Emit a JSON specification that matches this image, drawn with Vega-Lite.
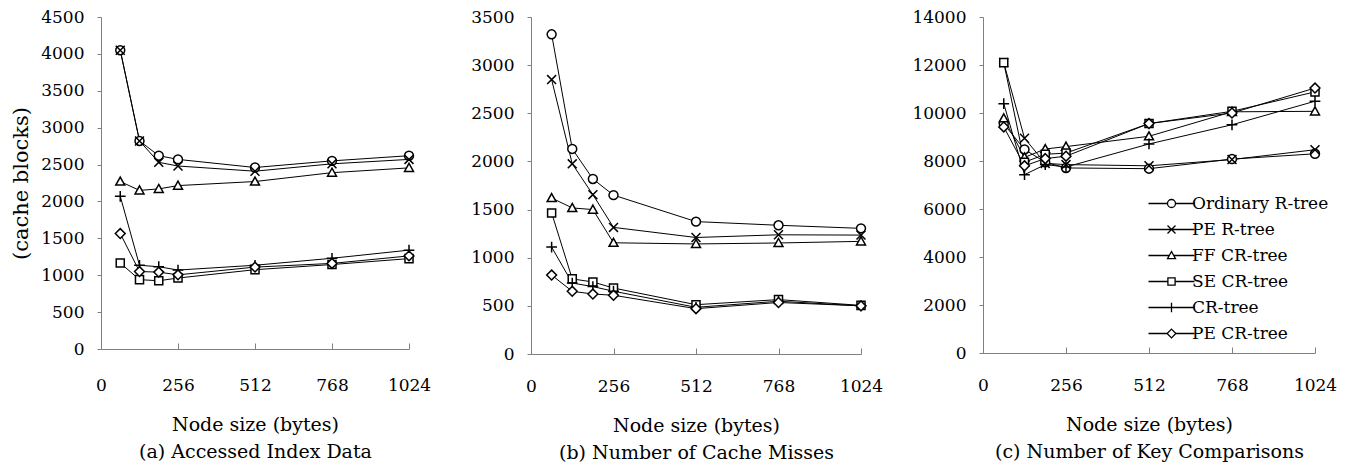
{
  "$schema": "https://vega.github.io/schema/vega-lite/v6.json",
  "padding": {"left": 10, "top": 8, "right": 5, "bottom": 2},
  "background": "white",
  "bounds": "flush",
  "spacing": 122,
  "config": {
    "font": "DejaVu Serif",
    "view": {"stroke": null},
    "axis": {
      "grid": false,
      "domainColor": "#808080",
      "tickColor": "#808080",
      "labelColor": "black",
      "titleColor": "black",
      "labelFont": "DejaVu Serif",
      "titleFont": "DejaVu Serif",
      "titleFontWeight": "normal",
      "labelFontSize": 17,
      "titleFontSize": 19,
      "format": "d"
    },
    "legend": {
      "labelFont": "DejaVu Serif",
      "labelFontSize": 17,
      "labelColor": "black"
    }
  },
  "resolve": {"scale": {"shape": "independent"}, "legend": {"shape": "independent"}},
  "datasets": {
    "d": [
      {"p":"a","s":"Ordinary R-tree","x":64,"y":4050},{"p":"a","s":"Ordinary R-tree","x":128,"y":2820},{"p":"a","s":"Ordinary R-tree","x":192,"y":2620},{"p":"a","s":"Ordinary R-tree","x":256,"y":2570},{"p":"a","s":"Ordinary R-tree","x":512,"y":2460},{"p":"a","s":"Ordinary R-tree","x":768,"y":2550},{"p":"a","s":"Ordinary R-tree","x":1024,"y":2620},
      {"p":"a","s":"PE R-tree","x":64,"y":4050},{"p":"a","s":"PE R-tree","x":128,"y":2820},{"p":"a","s":"PE R-tree","x":192,"y":2530},{"p":"a","s":"PE R-tree","x":256,"y":2480},{"p":"a","s":"PE R-tree","x":512,"y":2410},{"p":"a","s":"PE R-tree","x":768,"y":2510},{"p":"a","s":"PE R-tree","x":1024,"y":2570},
      {"p":"a","s":"FF CR-tree","x":64,"y":2270},{"p":"a","s":"FF CR-tree","x":128,"y":2150},{"p":"a","s":"FF CR-tree","x":192,"y":2170},{"p":"a","s":"FF CR-tree","x":256,"y":2215},{"p":"a","s":"FF CR-tree","x":512,"y":2270},{"p":"a","s":"FF CR-tree","x":768,"y":2390},{"p":"a","s":"FF CR-tree","x":1024,"y":2455},
      {"p":"a","s":"SE CR-tree","x":64,"y":1165},{"p":"a","s":"SE CR-tree","x":128,"y":940},{"p":"a","s":"SE CR-tree","x":192,"y":925},{"p":"a","s":"SE CR-tree","x":256,"y":962},{"p":"a","s":"SE CR-tree","x":512,"y":1075},{"p":"a","s":"SE CR-tree","x":768,"y":1145},{"p":"a","s":"SE CR-tree","x":1024,"y":1225},
      {"p":"a","s":"CR-tree","x":64,"y":2070},{"p":"a","s":"CR-tree","x":128,"y":1135},{"p":"a","s":"CR-tree","x":192,"y":1115},{"p":"a","s":"CR-tree","x":256,"y":1070},{"p":"a","s":"CR-tree","x":512,"y":1135},{"p":"a","s":"CR-tree","x":768,"y":1230},{"p":"a","s":"CR-tree","x":1024,"y":1340},
      {"p":"a","s":"PE CR-tree","x":64,"y":1565},{"p":"a","s":"PE CR-tree","x":128,"y":1050},{"p":"a","s":"PE CR-tree","x":192,"y":1042},{"p":"a","s":"PE CR-tree","x":256,"y":1005},{"p":"a","s":"PE CR-tree","x":512,"y":1110},{"p":"a","s":"PE CR-tree","x":768,"y":1160},{"p":"a","s":"PE CR-tree","x":1024,"y":1262},

      {"p":"b","s":"Ordinary R-tree","x":64,"y":3320},{"p":"b","s":"Ordinary R-tree","x":128,"y":2130},{"p":"b","s":"Ordinary R-tree","x":192,"y":1818},{"p":"b","s":"Ordinary R-tree","x":256,"y":1650},{"p":"b","s":"Ordinary R-tree","x":512,"y":1375},{"p":"b","s":"Ordinary R-tree","x":768,"y":1337},{"p":"b","s":"Ordinary R-tree","x":1024,"y":1305},
      {"p":"b","s":"PE R-tree","x":64,"y":2850},{"p":"b","s":"PE R-tree","x":128,"y":1975},{"p":"b","s":"PE R-tree","x":192,"y":1655},{"p":"b","s":"PE R-tree","x":256,"y":1315},{"p":"b","s":"PE R-tree","x":512,"y":1210},{"p":"b","s":"PE R-tree","x":768,"y":1238},{"p":"b","s":"PE R-tree","x":1024,"y":1235},
      {"p":"b","s":"FF CR-tree","x":64,"y":1620},{"p":"b","s":"FF CR-tree","x":128,"y":1517},{"p":"b","s":"FF CR-tree","x":192,"y":1500},{"p":"b","s":"FF CR-tree","x":256,"y":1155},{"p":"b","s":"FF CR-tree","x":512,"y":1143},{"p":"b","s":"FF CR-tree","x":768,"y":1153},{"p":"b","s":"FF CR-tree","x":1024,"y":1170},
      {"p":"b","s":"SE CR-tree","x":64,"y":1465},{"p":"b","s":"SE CR-tree","x":128,"y":780},{"p":"b","s":"SE CR-tree","x":192,"y":748},{"p":"b","s":"SE CR-tree","x":256,"y":685},{"p":"b","s":"SE CR-tree","x":512,"y":512},{"p":"b","s":"SE CR-tree","x":768,"y":565},{"p":"b","s":"SE CR-tree","x":1024,"y":505},
      {"p":"b","s":"CR-tree","x":64,"y":1110},{"p":"b","s":"CR-tree","x":128,"y":737},{"p":"b","s":"CR-tree","x":192,"y":700},{"p":"b","s":"CR-tree","x":256,"y":652},{"p":"b","s":"CR-tree","x":512,"y":485},{"p":"b","s":"CR-tree","x":768,"y":548},{"p":"b","s":"CR-tree","x":1024,"y":500},
      {"p":"b","s":"PE CR-tree","x":64,"y":820},{"p":"b","s":"PE CR-tree","x":128,"y":651},{"p":"b","s":"PE CR-tree","x":192,"y":623},{"p":"b","s":"PE CR-tree","x":256,"y":610},{"p":"b","s":"PE CR-tree","x":512,"y":471},{"p":"b","s":"PE CR-tree","x":768,"y":535},{"p":"b","s":"PE CR-tree","x":1024,"y":500},

      {"p":"c","s":"Ordinary R-tree","x":64,"y":9550},{"p":"c","s":"Ordinary R-tree","x":128,"y":8480},{"p":"c","s":"Ordinary R-tree","x":192,"y":7950},{"p":"c","s":"Ordinary R-tree","x":256,"y":7710},{"p":"c","s":"Ordinary R-tree","x":512,"y":7680},{"p":"c","s":"Ordinary R-tree","x":768,"y":8080},{"p":"c","s":"Ordinary R-tree","x":1024,"y":8300},
      {"p":"c","s":"PE R-tree","x":64,"y":12100},{"p":"c","s":"PE R-tree","x":128,"y":8950},{"p":"c","s":"PE R-tree","x":192,"y":7900},{"p":"c","s":"PE R-tree","x":256,"y":7850},{"p":"c","s":"PE R-tree","x":512,"y":7800},{"p":"c","s":"PE R-tree","x":768,"y":8060},{"p":"c","s":"PE R-tree","x":1024,"y":8470},
      {"p":"c","s":"FF CR-tree","x":64,"y":9780},{"p":"c","s":"FF CR-tree","x":128,"y":8150},{"p":"c","s":"FF CR-tree","x":192,"y":8500},{"p":"c","s":"FF CR-tree","x":256,"y":8600},{"p":"c","s":"FF CR-tree","x":512,"y":9030},{"p":"c","s":"FF CR-tree","x":768,"y":10050},{"p":"c","s":"FF CR-tree","x":1024,"y":10070},
      {"p":"c","s":"SE CR-tree","x":64,"y":12100},{"p":"c","s":"SE CR-tree","x":128,"y":7950},{"p":"c","s":"SE CR-tree","x":192,"y":8280},{"p":"c","s":"SE CR-tree","x":256,"y":8330},{"p":"c","s":"SE CR-tree","x":512,"y":9560},{"p":"c","s":"SE CR-tree","x":768,"y":10070},{"p":"c","s":"SE CR-tree","x":1024,"y":10880},
      {"p":"c","s":"CR-tree","x":64,"y":10390},{"p":"c","s":"CR-tree","x":128,"y":7430},{"p":"c","s":"CR-tree","x":192,"y":7850},{"p":"c","s":"CR-tree","x":256,"y":7750},{"p":"c","s":"CR-tree","x":512,"y":8710},{"p":"c","s":"CR-tree","x":768,"y":9510},{"p":"c","s":"CR-tree","x":1024,"y":10490},
      {"p":"c","s":"PE CR-tree","x":64,"y":9420},{"p":"c","s":"PE CR-tree","x":128,"y":7800},{"p":"c","s":"PE CR-tree","x":192,"y":8100},{"p":"c","s":"PE CR-tree","x":256,"y":8200},{"p":"c","s":"PE CR-tree","x":512,"y":9560},{"p":"c","s":"PE CR-tree","x":768,"y":10000},{"p":"c","s":"PE CR-tree","x":1024,"y":11040}
    ]
  },
  "hconcat": [
    {
      "width": 308,
      "height": 332,
      "data": {"name": "d"},
      "transform": [{"filter": "datum.p == 'a'"}],
      "encoding": {
        "x": {"field": "x", "type": "quantitative", "scale": {"domain": [0, 1024], "nice": false},
          "axis": {"values": [0, 256, 512, 768, 1024], "tickSize": -6, "labelPadding": 34, "labelFlush": false, "labelOverlap": false,
            "title": ["Node size (bytes)", "(a) Accessed Index Data"], "titleLineHeight": 27, "titlePadding": 22}},
        "y": {"field": "y", "type": "quantitative", "scale": {"domain": [0, 4500], "nice": false},
          "axis": {"values": [0, 500, 1000, 1500, 2000, 2500, 3000, 3500, 4000, 4500], "tickSize": 4, "labelPadding": 13,
            "title": "(cache blocks)", "titleFontSize": 21, "titlePadding": 9}}
      },
      "layer": [
        {"mark": {"type": "line", "color": "black", "strokeWidth": 1}, "encoding": {"detail": {"field": "s"}}},
        {"mark": {"type": "point", "filled": true, "fill": "white", "stroke": "black", "strokeWidth": 1.5, "size": 80, "opacity": 1},
          "encoding": {"shape": {"field": "s", "type": "nominal", "legend": null,
            "scale": {"domain": ["Ordinary R-tree", "PE R-tree", "FF CR-tree", "SE CR-tree", "CR-tree", "PE CR-tree"],
              "range": ["M1,0A1,1,0,1,1,-1,0A1,1,0,1,1,1,0", "M-1,-1L1,1M-1,1L1,-1", "M0,-1L1,0.8L-1,0.8Z", "M-0.9,-0.9H0.9V0.9H-0.9Z", "M-1.2,0H1.2M0,-1.2V1.2", "M0,-1.1L1.1,0L0,1.1L-1.1,0Z"]}}}}
      ]
    },
    {
      "width": 330,
      "height": 337,
      "data": {"name": "d"},
      "transform": [{"filter": "datum.p == 'b'"}],
      "encoding": {
        "x": {"field": "x", "type": "quantitative", "scale": {"domain": [0, 1024], "nice": false},
          "axis": {"values": [0, 256, 512, 768, 1024], "tickSize": -6, "labelPadding": 30, "labelFlush": false, "labelOverlap": false,
            "title": ["Node size (bytes)", "(b) Number of Cache Misses"], "titleLineHeight": 27, "titlePadding": 22}},
        "y": {"field": "y", "type": "quantitative", "scale": {"domain": [0, 3500], "nice": false},
          "axis": {"values": [0, 500, 1000, 1500, 2000, 2500, 3000, 3500], "tickSize": 4, "labelPadding": 13, "title": null}}
      },
      "layer": [
        {"mark": {"type": "line", "color": "black", "strokeWidth": 1}, "encoding": {"detail": {"field": "s"}}},
        {"mark": {"type": "point", "filled": true, "fill": "white", "stroke": "black", "strokeWidth": 1.5, "size": 80, "opacity": 1},
          "encoding": {"shape": {"field": "s", "type": "nominal", "legend": null,
            "scale": {"domain": ["Ordinary R-tree", "PE R-tree", "FF CR-tree", "SE CR-tree", "CR-tree", "PE CR-tree"],
              "range": ["M1,0A1,1,0,1,1,-1,0A1,1,0,1,1,1,0", "M-1,-1L1,1M-1,1L1,-1", "M0,-1L1,0.8L-1,0.8Z", "M-0.9,-0.9H0.9V0.9H-0.9Z", "M-1.2,0H1.2M0,-1.2V1.2", "M0,-1.1L1.1,0L0,1.1L-1.1,0Z"]}}}}
      ]
    },
    {
      "width": 332,
      "height": 336,
      "data": {"name": "d"},
      "transform": [{"filter": "datum.p == 'c'"}],
      "encoding": {
        "x": {"field": "x", "type": "quantitative", "scale": {"domain": [0, 1024], "nice": false},
          "axis": {"values": [0, 256, 512, 768, 1024], "tickSize": -6, "labelPadding": 30, "labelFlush": false, "labelOverlap": false,
            "title": ["Node size (bytes)", "(c) Number of Key Comparisons"], "titleLineHeight": 27, "titlePadding": 22}},
        "y": {"field": "y", "type": "quantitative", "scale": {"domain": [0, 14000], "nice": false},
          "axis": {"values": [0, 2000, 4000, 6000, 8000, 10000, 12000, 14000], "tickSize": 4, "labelPadding": 13, "title": null}}
      },
      "resolve": {"scale": {"shape": "independent"}, "legend": {"shape": "independent"}},
      "layer": [
        {"mark": {"type": "line", "color": "black", "strokeWidth": 1}, "encoding": {"detail": {"field": "s"}}},
        {"mark": {"type": "point", "filled": true, "fill": "white", "stroke": "black", "strokeWidth": 1.5, "size": 80, "opacity": 1},
          "encoding": {"shape": {"field": "s", "type": "nominal", "legend": null,
            "scale": {"domain": ["Ordinary R-tree", "PE R-tree", "FF CR-tree", "SE CR-tree", "CR-tree", "PE CR-tree"],
              "range": ["M1,0A1,1,0,1,1,-1,0A1,1,0,1,1,1,0", "M-1,-1L1,1M-1,1L1,-1", "M0,-1L1,0.8L-1,0.8Z", "M-0.9,-0.9H0.9V0.9H-0.9Z", "M-1.2,0H1.2M0,-1.2V1.2", "M0,-1.1L1.1,0L0,1.1L-1.1,0Z"]}}}},
        {"transform": [{"filter": "false"}],
          "mark": {"type": "point", "filled": false, "color": "black", "stroke": "black", "strokeWidth": 1.3, "size": 64, "opacity": 1},
          "encoding": {"shape": {"field": "s", "type": "nominal",
            "scale": {"domain": ["Ordinary R-tree", "PE R-tree", "FF CR-tree", "SE CR-tree", "CR-tree", "PE CR-tree"],
              "range": ["M-5.75,0H-1M1,0H5.75M1,0A1,1,0,1,1,-1,0A1,1,0,1,1,1,0", "M-5.75,0H5.75M-1,-1L1,1M-1,1L1,-1", "M-5.75,0H-0.56M0.56,0H5.75M0,-1L1,0.8L-1,0.8Z", "M-5.75,0H-0.9M0.9,0H5.75M-0.9,-0.9H0.9V0.9H-0.9Z", "M-5.75,0H5.75M0,-1.2V1.2", "M-5.75,0H-1.1M1.1,0H5.75M0,-1.1L1.1,0L0,1.1L-1.1,0Z"]},
            "legend": {"orient": "none", "legendX": 180, "legendY": 178, "title": null, "padding": 0,
              "symbolSize": 64, "symbolStrokeWidth": 1.3, "symbolStrokeColor": "black", "symbolOpacity": 1,
              "labelOffset": 12, "rowPadding": 8, "labelFontSize": 17, "labelColor": "black"}}}}
      ]
    }
  ]
}
